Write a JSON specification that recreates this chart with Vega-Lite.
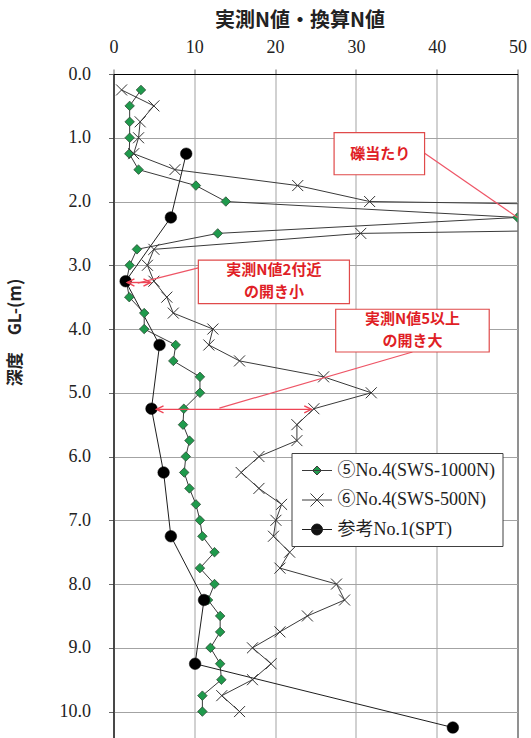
{
  "$schema": "https://vega.github.io/schema/vega-lite/v6.json",
  "autosize": {"type": "none"},
  "padding": {"left": 113.5, "top": 74, "right": 13.5, "bottom": 0},
  "width": 404,
  "height": 665,
  "background": "#ffffff",
  "config": {"view": {"stroke": "#000000", "strokeWidth": 1}},
  "datasets": {
    "pts": [
      {"s": "⑤No.4(SWS-1000N)", "d": 0.25, "n": 3.4},
      {"s": "⑤No.4(SWS-1000N)", "d": 0.5, "n": 2.0},
      {"s": "⑤No.4(SWS-1000N)", "d": 0.75, "n": 2.0},
      {"s": "⑤No.4(SWS-1000N)", "d": 1.0, "n": 2.0},
      {"s": "⑤No.4(SWS-1000N)", "d": 1.25, "n": 1.95},
      {"s": "⑤No.4(SWS-1000N)", "d": 1.5, "n": 3.1},
      {"s": "⑤No.4(SWS-1000N)", "d": 1.75, "n": 10.2},
      {"s": "⑤No.4(SWS-1000N)", "d": 2.0, "n": 13.9},
      {"s": "⑤No.4(SWS-1000N)", "d": 2.25, "n": 50},
      {"s": "⑤No.4(SWS-1000N)", "d": 2.5, "n": 12.9},
      {"s": "⑤No.4(SWS-1000N)", "d": 2.75, "n": 2.9},
      {"s": "⑤No.4(SWS-1000N)", "d": 3.0, "n": 2.0},
      {"s": "⑤No.4(SWS-1000N)", "d": 3.25, "n": 1.6},
      {"s": "⑤No.4(SWS-1000N)", "d": 3.5, "n": 1.95},
      {"s": "⑤No.4(SWS-1000N)", "d": 3.75, "n": 3.8},
      {"s": "⑤No.4(SWS-1000N)", "d": 4.0, "n": 3.8},
      {"s": "⑤No.4(SWS-1000N)", "d": 4.25, "n": 7.7},
      {"s": "⑤No.4(SWS-1000N)", "d": 4.5, "n": 7.4},
      {"s": "⑤No.4(SWS-1000N)", "d": 4.75, "n": 10.7},
      {"s": "⑤No.4(SWS-1000N)", "d": 5.0, "n": 10.7},
      {"s": "⑤No.4(SWS-1000N)", "d": 5.25, "n": 8.7},
      {"s": "⑤No.4(SWS-1000N)", "d": 5.5, "n": 8.6},
      {"s": "⑤No.4(SWS-1000N)", "d": 5.75, "n": 9.4},
      {"s": "⑤No.4(SWS-1000N)", "d": 6.0, "n": 8.95},
      {"s": "⑤No.4(SWS-1000N)", "d": 6.25, "n": 8.75},
      {"s": "⑤No.4(SWS-1000N)", "d": 6.5, "n": 9.4},
      {"s": "⑤No.4(SWS-1000N)", "d": 6.75, "n": 10.2},
      {"s": "⑤No.4(SWS-1000N)", "d": 7.0, "n": 10.7},
      {"s": "⑤No.4(SWS-1000N)", "d": 7.25, "n": 11.0},
      {"s": "⑤No.4(SWS-1000N)", "d": 7.5, "n": 12.5},
      {"s": "⑤No.4(SWS-1000N)", "d": 7.75, "n": 10.7},
      {"s": "⑤No.4(SWS-1000N)", "d": 8.0, "n": 12.5},
      {"s": "⑤No.4(SWS-1000N)", "d": 8.25, "n": 11.7},
      {"s": "⑤No.4(SWS-1000N)", "d": 8.5, "n": 13.2},
      {"s": "⑤No.4(SWS-1000N)", "d": 8.75, "n": 13.2},
      {"s": "⑤No.4(SWS-1000N)", "d": 9.0, "n": 12.0},
      {"s": "⑤No.4(SWS-1000N)", "d": 9.25, "n": 13.2},
      {"s": "⑤No.4(SWS-1000N)", "d": 9.5, "n": 13.35},
      {"s": "⑤No.4(SWS-1000N)", "d": 9.75, "n": 11.0},
      {"s": "⑤No.4(SWS-1000N)", "d": 10.0, "n": 11.0},
      {"s": "⑥No.4(SWS-500N)", "d": 0.25, "n": 1.0},
      {"s": "⑥No.4(SWS-500N)", "d": 0.5, "n": 5.0},
      {"s": "⑥No.4(SWS-500N)", "d": 0.75, "n": 3.3},
      {"s": "⑥No.4(SWS-500N)", "d": 1.0, "n": 3.1},
      {"s": "⑥No.4(SWS-500N)", "d": 1.25, "n": 2.5},
      {"s": "⑥No.4(SWS-500N)", "d": 1.5, "n": 7.6},
      {"s": "⑥No.4(SWS-500N)", "d": 1.75, "n": 22.8},
      {"s": "⑥No.4(SWS-500N)", "d": 2.0, "n": 31.7},
      {"s": "⑥No.4(SWS-500N)", "d": 2.25, "n": 165},
      {"s": "⑥No.4(SWS-500N)", "d": 2.5, "n": 30.6},
      {"s": "⑥No.4(SWS-500N)", "d": 2.75, "n": 5.0},
      {"s": "⑥No.4(SWS-500N)", "d": 3.0, "n": 4.2},
      {"s": "⑥No.4(SWS-500N)", "d": 3.25, "n": 5.0},
      {"s": "⑥No.4(SWS-500N)", "d": 3.5, "n": 6.6},
      {"s": "⑥No.4(SWS-500N)", "d": 3.75, "n": 7.4},
      {"s": "⑥No.4(SWS-500N)", "d": 4.0, "n": 12.3},
      {"s": "⑥No.4(SWS-500N)", "d": 4.25, "n": 11.8},
      {"s": "⑥No.4(SWS-500N)", "d": 4.5, "n": 15.6},
      {"s": "⑥No.4(SWS-500N)", "d": 4.75, "n": 26.0},
      {"s": "⑥No.4(SWS-500N)", "d": 5.0, "n": 31.9},
      {"s": "⑥No.4(SWS-500N)", "d": 5.25, "n": 24.8},
      {"s": "⑥No.4(SWS-500N)", "d": 5.5, "n": 22.7},
      {"s": "⑥No.4(SWS-500N)", "d": 5.75, "n": 22.7},
      {"s": "⑥No.4(SWS-500N)", "d": 6.0, "n": 18.0},
      {"s": "⑥No.4(SWS-500N)", "d": 6.25, "n": 15.8},
      {"s": "⑥No.4(SWS-500N)", "d": 6.5, "n": 18.0},
      {"s": "⑥No.4(SWS-500N)", "d": 6.75, "n": 20.8},
      {"s": "⑥No.4(SWS-500N)", "d": 7.0, "n": 20.1},
      {"s": "⑥No.4(SWS-500N)", "d": 7.25, "n": 19.8},
      {"s": "⑥No.4(SWS-500N)", "d": 7.5, "n": 21.8},
      {"s": "⑥No.4(SWS-500N)", "d": 7.75, "n": 20.6},
      {"s": "⑥No.4(SWS-500N)", "d": 8.0, "n": 27.6},
      {"s": "⑥No.4(SWS-500N)", "d": 8.25, "n": 28.6},
      {"s": "⑥No.4(SWS-500N)", "d": 8.5, "n": 24.0},
      {"s": "⑥No.4(SWS-500N)", "d": 8.75, "n": 20.6},
      {"s": "⑥No.4(SWS-500N)", "d": 9.0, "n": 17.2},
      {"s": "⑥No.4(SWS-500N)", "d": 9.25, "n": 19.5},
      {"s": "⑥No.4(SWS-500N)", "d": 9.5, "n": 17.2},
      {"s": "⑥No.4(SWS-500N)", "d": 9.75, "n": 13.4},
      {"s": "⑥No.4(SWS-500N)", "d": 10.0, "n": 15.6},
      {"s": "参考No.1(SPT)", "d": 1.25, "n": 9.0},
      {"s": "参考No.1(SPT)", "d": 2.25, "n": 7.1},
      {"s": "参考No.1(SPT)", "d": 3.25, "n": 1.5},
      {"s": "参考No.1(SPT)", "d": 4.25, "n": 5.7},
      {"s": "参考No.1(SPT)", "d": 5.25, "n": 4.7},
      {"s": "参考No.1(SPT)", "d": 6.25, "n": 6.2},
      {"s": "参考No.1(SPT)", "d": 7.25, "n": 7.1},
      {"s": "参考No.1(SPT)", "d": 8.25, "n": 11.2},
      {"s": "参考No.1(SPT)", "d": 9.25, "n": 10.1},
      {"s": "参考No.1(SPT)", "d": 10.25, "n": 42.0}
    ],
    "boxes": [
      {"n": 27.3, "n2": 38.5, "d": 0.92, "d2": 1.58},
      {"n": 10.5, "n2": 29.2, "d": 2.92, "d2": 3.6},
      {"n": 27.5, "n2": 46.5, "d": 3.69, "d2": 4.36}
    ],
    "notes": [
      {"n": 33.0, "d": 1.25, "t": "礫当たり"},
      {"n": 19.85, "d": 3.07, "t": "実測N値2付近"},
      {"n": 19.85, "d": 3.42, "t": "の開き小"},
      {"n": 37.0, "d": 3.84, "t": "実測N値5以上"},
      {"n": 37.0, "d": 4.19, "t": "の開き大"}
    ],
    "leaders": [
      {"n": 38.46, "d": 1.24, "n2": 50, "d2": 2.25},
      {"n": 10.5, "d": 3.04, "n2": 3.0, "d2": 3.28},
      {"n": 37.0, "d": 4.36, "n2": 13.1, "d2": 5.24}
    ],
    "arrows": [
      {"n": 1.7, "d": 3.27, "n2": 4.6, "d2": 3.27},
      {"n": 5.3, "d": 5.26, "n2": 24.5, "d2": 5.26}
    ],
    "heads": [
      {"n": 1.7, "d": 3.27, "dir": "L"},
      {"n": 4.6, "d": 3.27, "dir": "R"},
      {"n": 5.3, "d": 5.26, "dir": "L"},
      {"n": 24.5, "d": 5.26, "dir": "R"}
    ]
  },
  "encoding": {
    "x": {
      "field": "n", "type": "quantitative",
      "scale": {"domain": [0, 50], "nice": false, "zero": false},
      "axis": {
        "orient": "top", "values": [0, 10, 20, 30, 40, 50], "format": "d",
        "labelFont": "Liberation Serif", "labelFontSize": 18, "labelColor": "#222222",
        "labelFlush": false, "labelOverlap": false,
        "tickSize": 5, "tickColor": "#666666", "labelPadding": 13,
        "domainColor": "#000000", "gridColor": "#a3a3a3", "gridWidth": 1,
        "title": "実測N値・換算N値", "titleFont": "Noto Sans CJK JP", "titleFontSize": 20,
        "titleFontWeight": "bold", "titleColor": "#222222",
        "titleX": 186, "titleY": -54, "titleAlign": "center", "titleBaseline": "middle"
      }
    },
    "y": {
      "field": "d", "type": "quantitative",
      "scale": {"domain": [0, 10.43], "reverse": true, "nice": false, "zero": false},
      "axis": {
        "values": [0, 1, 2, 3, 4, 5, 6, 7, 8, 9, 10], "format": ".1f",
        "labelFont": "Liberation Serif", "labelFontSize": 18, "labelColor": "#222222",
        "labelFlush": false, "labelOverlap": false,
        "tickSize": 5, "tickColor": "#666666", "labelPadding": 18,
        "domainColor": "#000000", "gridColor": "#a3a3a3", "gridWidth": 1,
        "title": "深度　GL-(m)", "titleFont": "Noto Sans CJK JP", "titleFontSize": 17,
        "titleFontWeight": "bold", "titleColor": "#222222", "titleAngle": -90,
        "titleX": -98, "titleY": 258, "titleAlign": "center", "titleBaseline": "middle"
      }
    }
  },
  "layer": [
    {
      "data": {"name": "pts"},
      "mark": {"type": "line", "clip": true, "strokeWidth": 1},
      "encoding": {
        "color": {
          "field": "s", "type": "nominal",
          "scale": {
            "domain": ["⑤No.4(SWS-1000N)", "⑥No.4(SWS-500N)", "参考No.1(SPT)"],
            "range": ["#3a3a3a", "#3a3a3a", "#1e1e1e"]
          },
          "legend": {
            "orient": "none", "legendX": 178, "legendY": 379, "title": null,
            "symbolSize": 400, "symbolStrokeWidth": 1,
            "labelFont": "Liberation Serif, Noto Sans CJK JP", "labelFontSize": 18, "labelColor": "#222222",
            "labelLimit": 400, "padding": 7, "rowPadding": 9.5, "symbolOffset": 8, "labelOffset": 10,
            "fillColor": "#ffffff", "strokeColor": "#404040",
            "encode": {
              "symbols": {
                "update": {
                  "shape": {"signal": "indexof(datum.value,'1000N')>=0 ? 'M-1.5,0L1.5,0M-0.45,0L0,-0.45L0.45,0L0,0.45Z' : (indexof(datum.value,'500N')>=0 ? 'M-1.5,0L1.5,0M-0.65,-0.65L0.65,0.65M-0.65,0.65L0.65,-0.65' : 'M-1.5,0L1.5,0M-0.55,0A0.55,0.55,0,1,1,0.55,0A0.55,0.55,0,1,1,-0.55,0Z')"},
                  "fill": {"signal": "indexof(datum.value,'1000N')>=0 ? '#1f9a4c' : (indexof(datum.value,'SPT')>=0 ? '#111111' : 'transparent')"},
                  "stroke": {"value": "#333333"},
                  "strokeWidth": {"value": 1},
                  "opacity": {"value": 1}
                }
              }
            }
          }
        },
        "order": {"field": "d", "type": "quantitative"}
      }
    },
    {
      "data": {"name": "pts"},
      "transform": [{"filter": "indexof(datum.s,'1000N')>=0"}],
      "mark": {"type": "point", "shape": "diamond", "filled": true, "clip": true, "size": 90, "fill": "#1f9a4c", "stroke": "#2b4a33", "strokeWidth": 0.8, "opacity": 1}
    },
    {
      "data": {"name": "pts"},
      "transform": [{"filter": "indexof(datum.s,'500N')>=0"}],
      "mark": {"type": "point", "shape": "M-1,-1L1,1M-1,1L1,-1", "filled": false, "clip": true, "size": 121, "stroke": "#333333", "strokeWidth": 1, "opacity": 1}
    },
    {
      "data": {"name": "pts"},
      "transform": [{"filter": "indexof(datum.s,'SPT')>=0"}],
      "mark": {"type": "point", "shape": "circle", "filled": true, "clip": true, "size": 135, "fill": "#000000", "stroke": "#000000", "strokeWidth": 0.5, "opacity": 1}
    },
    {
      "data": {"name": "leaders"},
      "mark": {"type": "rule", "color": "#ee5566", "strokeWidth": 1.2},
      "encoding": {"x2": {"field": "n2"}, "y2": {"field": "d2"}}
    },
    {
      "data": {"name": "arrows"},
      "mark": {"type": "rule", "color": "#ee4455", "strokeWidth": 1.4},
      "encoding": {"x2": {"field": "n2"}, "y2": {"field": "d2"}}
    },
    {
      "data": {"name": "heads"},
      "mark": {"type": "point", "filled": false, "size": 36, "stroke": "#ee4455", "strokeWidth": 1.4, "opacity": 1},
      "encoding": {
        "shape": {"field": "dir", "type": "nominal", "scale": {"domain": ["L", "R"], "range": ["M2.4,-1.2L0,0L2.4,1.2", "M-2.4,-1.2L0,0L-2.4,1.2"]}, "legend": null}
      }
    },
    {
      "data": {"name": "boxes"},
      "mark": {"type": "rect", "fill": "#ffffff", "stroke": "#e04a4a", "strokeWidth": 1.2},
      "encoding": {"x2": {"field": "n2"}, "y2": {"field": "d2"}}
    },
    {
      "data": {"name": "notes"},
      "mark": {"type": "text", "font": "Noto Sans CJK JP", "fontSize": 15, "fontWeight": "bold", "color": "#e01e26", "align": "center", "baseline": "middle"},
      "encoding": {"text": {"field": "t"}}
    }
  ]
}
